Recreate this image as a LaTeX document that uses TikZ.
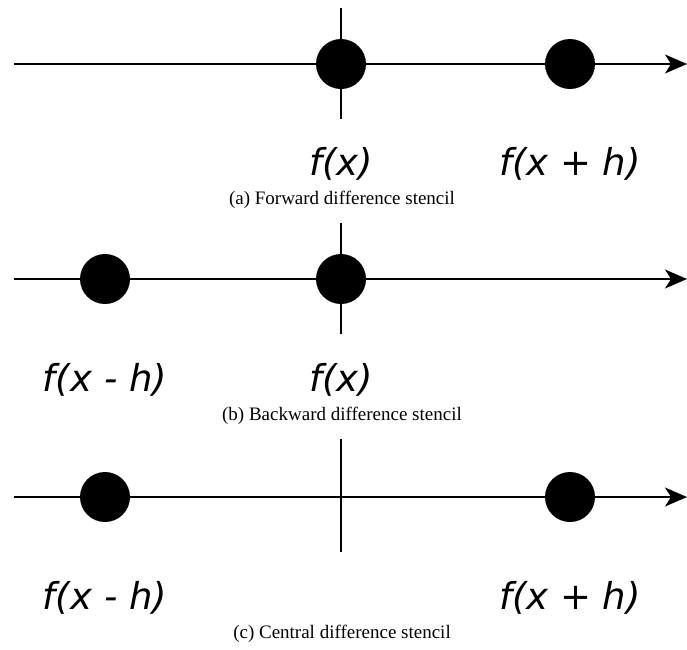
\documentclass[tikz,border=0pt]{standalone}
\usepackage{fontspec}
\setmainfont{Liberation Serif}
\newfontfamily\stencilfont{DejaVu Sans}
\usetikzlibrary{arrows.meta}

\begin{document}
\begin{tikzpicture}[x=1pt,y=-1pt,>={Stealth[length=22pt,width=19pt,inset=6pt]},
  axis/.style={line width=1.5pt},
  dot/.style={circle,fill=black,minimum size=50pt,inner sep=0pt},
  lbl/.style={anchor=base,font=\stencilfont\itshape\fontsize{37}{40}\selectfont},
  subcap/.style={font=\fontsize{19}{22}\selectfont}]
\useasboundingbox (0,0) rectangle (687,649);
% (a) forward difference
\coordinate (aw) at (14,64);
\coordinate (ae) at (687,64);
\coordinate (an) at (341,8);
\coordinate (as) at (341,119);
\draw[axis,->] (aw)--(ae);
\draw[axis] (an)--(as);
\node[dot] (ax) at (341,64) {};
\node[dot] (axh) at (570,64) {};
\node[lbl] (lax) at (341,175) {f(x)};
\node[lbl] (laxh) at (570,175) {f(x + h)};
\node[subcap] (capa) at (342,200) {(a) Forward difference stencil};
% (b) backward difference
\coordinate (bw) at (14,279);
\coordinate (be) at (687,279);
\coordinate (bn) at (341,223);
\coordinate (bs) at (341,334);
\draw[axis,->] (bw)--(be);
\draw[axis] (bn)--(bs);
\node[dot] (bxh) at (105,279) {};
\node[dot] (bx) at (341,279) {};
\node[lbl] (lbxh) at (105,391) {f(x - h)};
\node[lbl] (lbx) at (341,391) {f(x)};
\node[subcap] (capb) at (342,416) {(b) Backward difference stencil};
% (c) central difference
\coordinate (cw) at (14,497);
\coordinate (ce) at (687,497);
\coordinate (cn) at (341,439);
\coordinate (cs) at (341,552);
\draw[axis,->] (cw)--(ce);
\draw[axis] (cn)--(cs);
\node[dot] (cxm) at (105,497) {};
\node[dot] (cxp) at (570,497) {};
\node[lbl] (lcxm) at (105,609) {f(x - h)};
\node[lbl] (lcxp) at (570,609) {f(x + h)};
\node[subcap] (capc) at (342,634) {(c) Central difference stencil};
\end{tikzpicture}
\end{document}
